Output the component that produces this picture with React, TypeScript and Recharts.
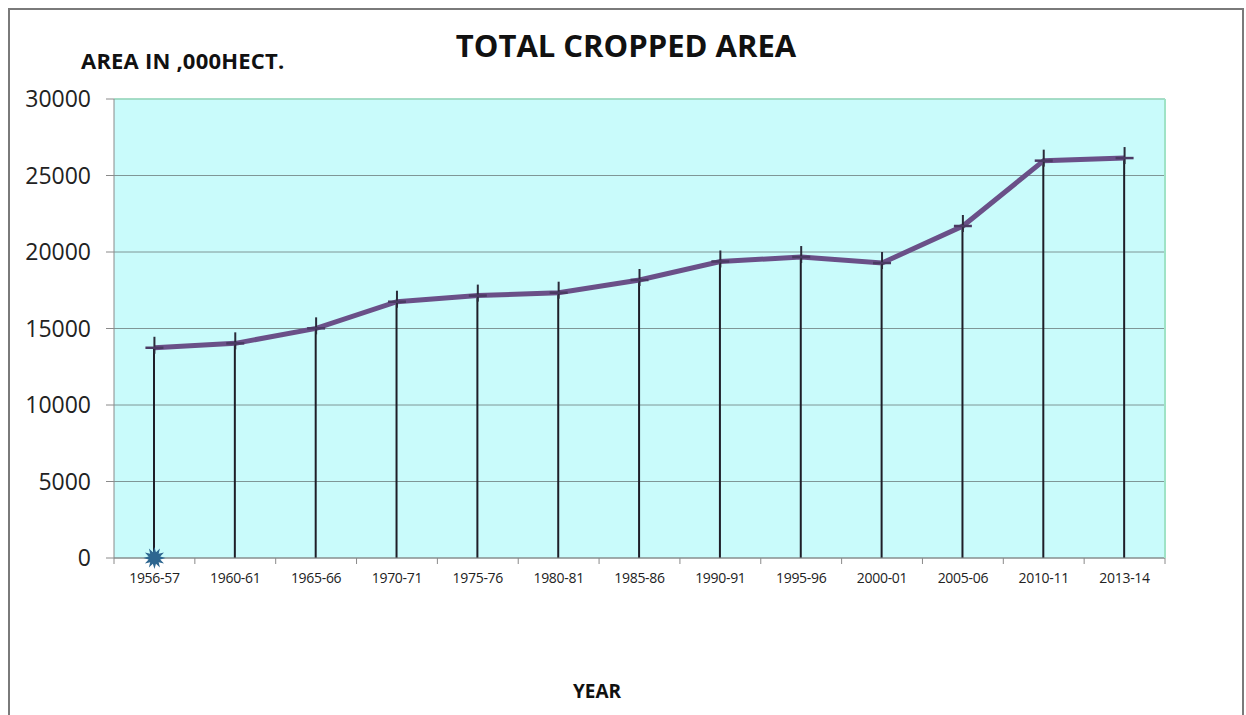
import { ComposedChart, Line, Bar, XAxis, YAxis, CartesianGrid, ReferenceLine } from 'recharts';

const years = [
  '1956-57', '1960-61', '1965-66', '1970-71', '1975-76', '1980-81', '1985-86',
  '1990-91', '1995-96', '2000-01', '2005-06', '2010-11', '2013-14',
];
const croppedArea = [13740, 14030, 15010, 16750, 17150, 17340, 18170, 19380, 19670, 19280, 21700, 25970, 26140];
// second series: only the first point at zero (the star marker)
const baseSeries = [0, null, null, null, null, null, null, null, null, null, null, null, null];
const yTicks = [0, 5000, 10000, 15000, 20000, 25000, 30000];

const data = years.map((year, i) => ({ year, area: croppedArea[i], base: baseSeries[i] }));

const font = '"Open Sans", sans-serif';

function PlusMarker(props: any) {
  const { cx, cy } = props;
  if (cx == null || cy == null) return null;
  return (
    <g>
      <line x1={cx} y1={cy - 11} x2={cx} y2={cy + 6} stroke="#2b2b3a" strokeWidth={2} />
      <line x1={cx - 9} y1={cy} x2={cx + 9} y2={cy} stroke="#4b3a63" strokeWidth={2.5} />
    </g>
  );
}

function StarMarker(props: any) {
  const { cx, cy } = props;
  if (cx == null || cy == null) return null;
  const pts: string[] = [];
  for (let k = 0; k < 24; k++) {
    const r = k % 2 === 0 ? 11 : 6;
    const a = (Math.PI / 12) * k;
    pts.push(`${cx + r * Math.sin(a)},${cy - r * Math.cos(a)}`);
  }
  return <polygon points={pts.join(' ')} fill="#2d6690" />;
}

// category label plus Excel-style tick marks between categories
function YearTick(props: any) {
  const { x, y, payload, index } = props;
  const half = payload.offset || 0;
  const axisY = y - 17;
  return (
    <g>
      <line x1={x - half} y1={axisY} x2={x - half} y2={axisY + 6} stroke="#8a8a8a" />
      {index === years.length - 1 && (
        <line x1={x + half} y1={axisY} x2={x + half} y2={axisY + 6} stroke="#8a8a8a" />
      )}
      <text x={x} y={y} dy={8} textAnchor="middle" fontSize={14} fill="#222" fontFamily={font} letterSpacing={-0.3}>
        {payload.value}
      </text>
    </g>
  );
}

export default function App() {
  return (
    <div style={{ position: 'absolute', left: 0, top: 0, width: 1246, height: 715, background: '#fff', overflow: 'hidden', fontFamily: font }}>
      <div style={{ position: 'absolute', left: 8, top: 8, width: 1232, height: 740, border: '2px solid #7a7a7a' }} />
      <div style={{ position: 'absolute', left: 0, width: 1252, top: 24, textAlign: 'center', fontWeight: 700, fontSize: 31, color: '#111' }}>
        TOTAL CROPPED AREA
      </div>
      <div style={{ position: 'absolute', left: 81, top: 45, fontWeight: 700, fontSize: 22, color: '#111', letterSpacing: 0.2 }}>
        AREA IN ,000HECT.
      </div>
      <div style={{ position: 'absolute', left: 573, top: 678, fontWeight: 700, fontSize: 19, color: '#111' }}>
        YEAR
      </div>
      <ComposedChart
        width={1246}
        height={715}
        data={data}
        margin={{ top: 99, right: 81, bottom: 127, left: 14 }}
        style={{ position: 'absolute', left: 0, top: 0 }}
      >
        <CartesianGrid vertical={false} stroke="#7f9696" strokeWidth={1} fill="#c9fbfb" />
        <XAxis
          dataKey="year"
          tickLine={false}
          axisLine={{ stroke: '#8a8a8a' }}
          tick={<YearTick />}
          tickSize={6}
          tickMargin={11}
          interval={0}
          height={30}
        />
        <YAxis
          domain={[0, 30000]}
          ticks={yTicks}
          width={100}
          tickSize={8}
          tickMargin={15}
          axisLine={{ stroke: '#8a8a8a' }}
          tickLine={{ stroke: '#8a8a8a' }}
          tick={{ fontSize: 23, fill: '#222', fontFamily: font }}
        />
        <ReferenceLine y={30000} stroke="#9fe3c6" strokeWidth={1.5} />
        <Bar dataKey="area" barSize={2} fill="#1e1e28" isAnimationActive={false} />
        <Line
          dataKey="area"
          type="linear"
          stroke="#6a5088"
          strokeWidth={5}
          dot={<PlusMarker />}
          activeDot={false}
          isAnimationActive={false}
        />
        <Line
          dataKey="base"
          stroke="none"
          dot={<StarMarker />}
          activeDot={false}
          connectNulls={false}
          isAnimationActive={false}
        />
      </ComposedChart>
      <div style={{ position: 'absolute', left: 1164, top: 99, width: 1.5, height: 459, background: '#9fe3c6' }} />
    </div>
  );
}
